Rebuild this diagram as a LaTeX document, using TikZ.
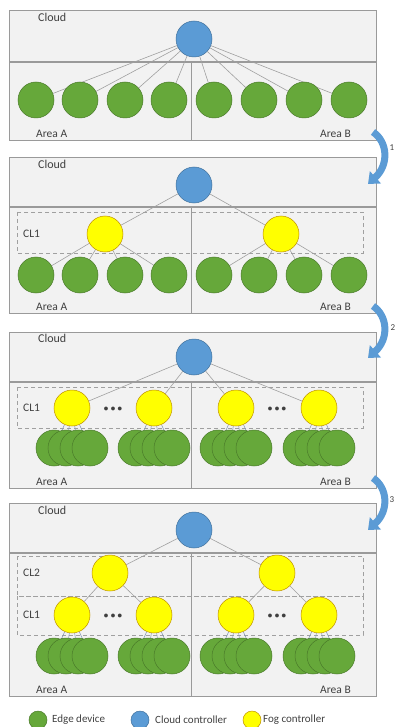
\documentclass[tikz,border=0pt]{standalone}
\usepackage{fontspec}
\setmainfont{Carlito}
\usetikzlibrary{arrows.meta}
\definecolor{panelfill}{HTML}{F2F2F2}
\definecolor{panelline}{HTML}{9A9A9A}
\definecolor{linkgray}{HTML}{A0A0A0}
\definecolor{linkblue}{HTML}{8C9DB8}
\definecolor{dashgray}{HTML}{A0A0A0}
\definecolor{greenfill}{HTML}{66A83A}
\definecolor{greenline}{HTML}{4A7A2A}
\definecolor{bluefill}{HTML}{5B9BD5}
\definecolor{blueline}{HTML}{41719C}
\definecolor{yellowfill}{HTML}{FFFF00}
\definecolor{yellowline}{HTML}{BF9000}
\definecolor{arrowblue}{HTML}{5B9BD5}
\definecolor{textgray}{HTML}{404040}
\pgfdeclarelayer{bg}
\pgfdeclarelayer{edges}
\pgfsetlayers{bg,edges,main}
\newcommand{\mypanel}[3]{%
  \draw[panel] (9,#1) rectangle (376,#2);
  \draw[panel] (9,#2) rectangle (376,#3);
  \draw[panelline, line width=0.8pt] (191,#2) -- (191,#3);
  \draw[panelline, line width=1.4pt] (9,#2) -- (376,#2);}
\begin{document}
\begin{tikzpicture}[x=1pt,y=-1pt,
  edev/.style={circle,draw=greenline,fill=greenfill,minimum size=36pt,inner sep=0pt,line width=0.5pt},
  cctrl/.style={circle,draw=blueline,fill=bluefill,minimum size=36pt,inner sep=0pt,line width=0.5pt},
  fctrl/.style={circle,draw=yellowline,fill=yellowfill,minimum size=36pt,inner sep=0pt,line width=0.5pt},
  link/.style={draw=linkgray,line width=0.6pt},
  slink/.style={draw=linkblue,line width=0.6pt},
  panel/.style={draw=panelline,fill=panelfill,line width=0.8pt},
  cluster/.style={draw=dashgray,dash pattern=on 4pt off 3pt,line width=0.7pt},
  lbl/.style={font=\fontsize{11.5}{13}\selectfont,text=textgray,inner sep=0pt},
  cloudlbl/.style={font=\fontsize{12}{14}\selectfont,text=textgray,inner sep=0pt,anchor=west},
  dots/.style={font=\fontsize{9}{11}\selectfont\bfseries,text=textgray,inner sep=0pt},
  arrowband/.style={draw=arrowblue,line width=7pt,-{Triangle[width=16pt,length=10pt]}},
  stepnum/.style={font=\fontsize{9}{10}\selectfont,text=textgray,inner sep=0pt},
  legdot/.style={circle,minimum size=18pt,inner sep=0pt,line width=0.5pt},
]
\useasboundingbox (0,0) rectangle (396,727);

\begin{pgfonlayer}{bg}
\mypanel{10}{62}{140}
\mypanel{157}{207}{313}
\mypanel{332}{382}{488}
\mypanel{503}{553}{696}
\draw[cluster] (17,212) rectangle (363,253);
\draw[cluster] (17,387) rectangle (363,428);
\draw[cluster] (17,556) rectangle (363,596);
\draw[cluster] (17,596) rectangle (363,635);
\end{pgfonlayer}

% ---------- Panel 1 ----------
\node[cloudlbl] (cl1) at (38,17) {Cloud};
\node[lbl,anchor=west] (aa1) at (36,134) {Area A};
\node[lbl,anchor=east] (ab1) at (351,134) {Area B};
\node[cctrl] (c1) at (194,39) {};
\foreach \i/\x in {1/36,2/80,3/125,4/169,5/214,6/259,7/304,8/349}
  \node[edev] (p1g\i) at (\x,100) {};

% ---------- Panel 2 ----------
\node[cloudlbl] (cl2) at (38,164) {Cloud};
\node[lbl,anchor=west] (aa2) at (36,307) {Area A};
\node[lbl,anchor=east] (ab2) at (351,307) {Area B};
\node[lbl,anchor=west] (k21) at (23,234) {CL1};
\node[cctrl] (c2) at (194,185) {};
\node[fctrl] (p2y1) at (105,234) {};
\node[fctrl] (p2y2) at (281,234) {};
\foreach \i/\x in {1/36,2/80,3/125,4/169,5/214,6/259,7/304,8/349}
  \node[edev] (p2g\i) at (\x,275) {};

% ---------- Panel 3 ----------
\node[cloudlbl] (cl3) at (38,338) {Cloud};
\node[lbl,anchor=west] (aa3) at (36,482) {Area A};
\node[lbl,anchor=east] (ab3) at (351,482) {Area B};
\node[lbl,anchor=west] (k31) at (23,408) {CL1};
\node[cctrl] (c3) at (194,357) {};
\foreach \i/\x in {1/72,2/154,3/236,4/319}{
  \node[fctrl] (p3y\i) at (\x,408) {};
  \foreach \j/\d in {1/-18,2/-6,3/6,4/18}
    \node[edev] (p3g\i\j) at (\x+\d,448) {};
}
\node[dots] (d31) at (113,409) {•\kern2.4pt•\kern2.4pt•};
\node[dots] (d32) at (277,409) {•\kern2.4pt•\kern2.4pt•};

% ---------- Panel 4 ----------
\node[cloudlbl] (cl4) at (38,510) {Cloud};
\node[lbl,anchor=west] (aa4) at (36,690) {Area A};
\node[lbl,anchor=east] (ab4) at (351,690) {Area B};
\node[lbl,anchor=west] (k42) at (23,573) {CL2};
\node[lbl,anchor=west] (k41) at (23,615) {CL1};
\node[cctrl] (c4) at (194,530) {};
\node[fctrl] (p4z1) at (110,573) {};
\node[fctrl] (p4z2) at (277,573) {};
\foreach \i/\x in {1/72,2/154,3/236,4/319}{
  \node[fctrl] (p4y\i) at (\x,615) {};
  \foreach \j/\d in {1/-18,2/-6,3/6,4/18}
    \node[edev] (p4g\i\j) at (\x+\d,656) {};
}
\node[dots] (d41) at (113,616) {•\kern2.4pt•\kern2.4pt•};
\node[dots] (d42) at (277,616) {•\kern2.4pt•\kern2.4pt•};

% ---------- Edges ----------
\begin{pgfonlayer}{edges}
\foreach \i in {1,...,8} \draw[link] (c1) -- (p1g\i);
\draw[link] (c2) -- (p2y1);
\draw[link] (c2) -- (p2y2);
\foreach \i in {1,...,4} \draw[link] (p2y1) -- (p2g\i);
\foreach \i in {5,...,8} \draw[link] (p2y2) -- (p2g\i);
\foreach \i in {1,...,4}{
  \draw[link] (c3) -- (p3y\i);
  \foreach \j in {1,...,4} \draw[slink] (p3y\i) -- (p3g\i\j);
}
\draw[link] (c4) -- (p4z1);
\draw[link] (c4) -- (p4z2);
\draw[link] (p4z1) -- (p4y1);
\draw[link] (p4z1) -- (p4y2);
\draw[link] (p4z2) -- (p4y3);
\draw[link] (p4z2) -- (p4y4);
\foreach \i in {1,...,4}{
  \foreach \j in {1,...,4} \draw[slink] (p4y\i) -- (p4g\i\j);
}
\end{pgfonlayer}

% ---------- Step arrows ----------
\coordinate (a1s) at (373,132);
\coordinate (a1e) at (368,184);
\draw[arrowband] (a1s) .. controls (388,142) and (389,165) .. (a1e);
\node[stepnum] (n1) at (392,148) {1};
\coordinate (a2s) at (373,306);
\coordinate (a2e) at (368,358);
\draw[arrowband] (a2s) .. controls (388,316) and (389,339) .. (a2e);
\node[stepnum] (n2) at (393,328) {2};
\coordinate (a3s) at (373,478);
\coordinate (a3e) at (368,530);
\draw[arrowband] (a3s) .. controls (388,488) and (389,511) .. (a3e);
\node[stepnum] (n3) at (392,500) {3};

% ---------- Legend ----------
\node[legdot,draw=greenline,fill=greenfill] (lg) at (38,720) {};
\node[lbl,anchor=west,font=\fontsize{11}{13}\selectfont] (lgt) at (52,720) {Edge device};
\node[legdot,draw=blueline,fill=bluefill] (lb) at (140,720) {};
\node[lbl,anchor=west,font=\fontsize{11}{13}\selectfont] (lbt) at (155,720) {Cloud controller};
\node[legdot,draw=yellowline,fill=yellowfill] (ly) at (252,720) {};
\node[lbl,anchor=west,font=\fontsize{11}{13}\selectfont] (lyt) at (263,720) {Fog controller};
\end{tikzpicture}
\end{document}
